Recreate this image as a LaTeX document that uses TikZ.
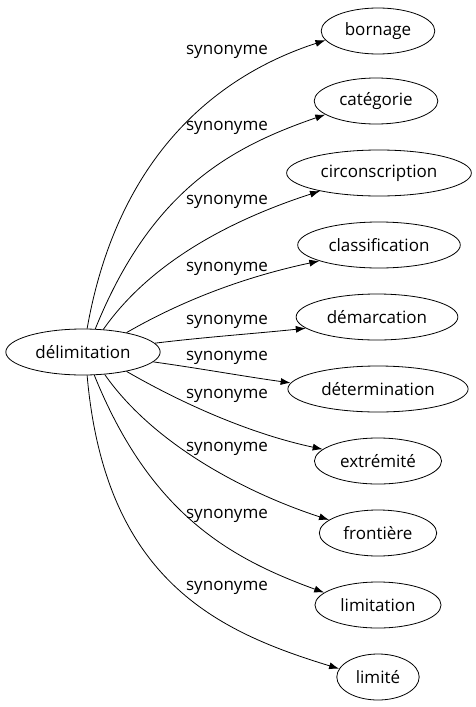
\documentclass[tikz,border=0pt]{standalone}
\usepackage{fontspec}
\setmainfont{Open Sans}
\usetikzlibrary{arrows.meta, shapes.geometric}

\begin{document}
\begin{tikzpicture}[x=1pt, y=1pt,
  term/.style={draw, ellipse, inner xsep=7pt, inner ysep=2pt, minimum height=46pt,
    line width=0.8pt, font=\fontsize{17}{20}\selectfont, text=black},
  synmsg/.style={-{Latex[length=10pt, width=7pt]}, line width=0.8pt},
  lbl/.style={font=\fontsize{17}{20}\selectfont, text=black}
]
\useasboundingbox (0,0) rectangle (475,-707);

\node[term] (root) at (83,-352) {délimitation};

\node[term] (bornage)   at (378,-31)  {bornage};
\node[term] (categorie) at (376,-101) {catégorie};
\node[term] (circ)      at (379,-173) {circonscription};
\node[term] (classif)   at (379,-245) {classification};
\node[term] (demarc)    at (377,-317) {démarcation};
\node[term] (determ)    at (378,-389) {détermination};
\node[term] (extrem)    at (378,-461) {extrémité};
\node[term] (front)     at (378,-533) {frontière};
\node[term] (limitat)   at (378,-605) {limitation};
\node[term] (limite)    at (378,-677) {limité};

\node[lbl] (s1)  at (227,-52)  {synonyme};
\node[lbl] (s2)  at (227,-128) {synonyme};
\node[lbl] (s3)  at (227,-202) {synonyme};
\node[lbl] (s4)  at (227,-269) {synonyme};
\node[lbl] (s5)  at (227,-322) {synonyme};
\node[lbl] (s6)  at (227,-358) {synonyme};
\node[lbl] (s7)  at (227,-396) {synonyme};
\node[lbl] (s8)  at (227,-449) {synonyme};
\node[lbl] (s9)  at (227,-516) {synonyme};
\node[lbl] (s10) at (227,-588) {synonyme};

% edges from the root, top to bottom
\draw[synmsg] (root.80)  .. controls +(80:170) and +(198:120) .. (bornage.190);
\draw[synmsg] (root.62)  .. controls +(68:150) and +(199:100) .. (categorie.195);
\draw[synmsg] (root.48)  .. controls +(55:90)  and +(198:80)  .. (circ.197);
\draw[synmsg] (root.24)  .. controls +(30:70)  and +(192:70)  .. (classif.195);
\draw[synmsg] (root.7)   .. controls +(7:50)   and +(186:50)  .. (demarc.189);
\draw[synmsg] (root.352) .. controls +(-8:50)  and +(172:50)  .. (determ.176);
\draw[synmsg] (root.336) .. controls +(-30:70) and +(168:70)  .. (extrem.168);
\draw[synmsg] (root.314) .. controls +(-55:90) and +(162:80)  .. (front.165);
\draw[synmsg] (root.296) .. controls +(-68:150) and +(160:100) .. (limitat.167);
\draw[synmsg] (root.280) .. controls +(-85:206) and +(163:127) .. (limite.168);
\end{tikzpicture}
\end{document}
